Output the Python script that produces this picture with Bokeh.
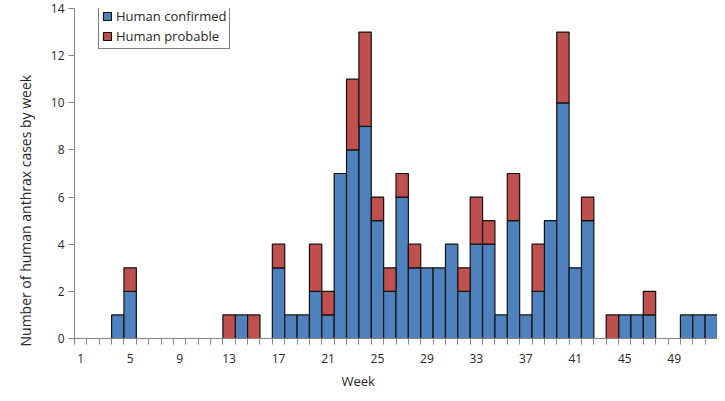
from bokeh.plotting import figure
from bokeh.models import (ColumnDataSource, CDSView, BooleanFilter, Range1d, FixedTicker,
                          Title, Legend, LegendItem)
from bokeh.embed import file_html
from bokeh.resources import INLINE

weeks = list(range(1, 53))
confirmed = [0, 0, 0, 1, 2, 0, 0, 0, 0, 0, 0, 0, 0, 1, 0, 0, 3, 1, 1, 2, 1,
             7, 8, 9, 5, 2, 6, 3, 3, 3, 4, 2, 4, 4, 1, 5, 1, 2, 5, 10, 3,
             5, 0, 0, 1, 1, 1, 0, 0, 1, 1, 1]
probable = [0, 0, 0, 0, 1, 0, 0, 0, 0, 0, 0, 0, 1, 0, 1, 0, 1, 0, 0, 2, 1,
            0, 3, 4, 1, 1, 1, 1, 0, 0, 0, 1, 2, 1, 0, 2, 0, 2, 0, 3, 0,
            1, 0, 1, 0, 0, 1, 0, 0, 0, 0, 0]
x_tick_weeks = list(range(1, 53, 4))
y_ticks = list(range(0, 15, 2))
series_names = ["Human confirmed", "Human probable"]

FONT = "Open Sans"
BLUE = "#4F81BD"
RED = "#C0504D"
AXIS_GREY = "#868686"
TEXT = "#262626"

totals = [c + q for c, q in zip(confirmed, probable)]
src = ColumnDataSource(dict(week=weeks, confirmed=confirmed, probable=probable, total=totals))

p = figure(width=717, height=393, output_backend="svg", toolbar_location=None,
           x_range=Range1d(0.5, len(weeks) + 0.5), y_range=Range1d(0, 14),
           min_border_left=74, min_border_right=0, min_border_top=8, min_border_bottom=52)
p.outline_line_color = None
p.xgrid.visible = False
p.ygrid.visible = False
p.background_fill_color = "white"

view_c = CDSView(filter=BooleanFilter([c > 0 for c in confirmed]))
view_p = CDSView(filter=BooleanFilter([q > 0 for q in probable]))

r_c = p.vbar(x="week", bottom=0, top="confirmed", width=1, source=src, view=view_c,
             fill_color=BLUE, line_color="#111111", line_width=1.2)
r_p = p.vbar(x="week", bottom="confirmed", top="total", width=1, source=src, view=view_p,
             fill_color=RED, line_color="#111111", line_width=1.2)

# x axis
xa = p.xaxis[0]
xa.ticker = FixedTicker(ticks=x_tick_weeks, minor_ticks=[w - 0.5 for w in weeks] + [weeks[-1] + 0.5])
xa.major_tick_out = 0
xa.major_tick_in = 0
xa.minor_tick_out = 6
xa.minor_tick_in = 0
xa.minor_tick_line_color = AXIS_GREY
xa.axis_line_color = AXIS_GREY
xa.major_label_standoff = 9
xa.major_label_text_font = FONT
xa.major_label_text_font_size = "12px"
xa.major_label_text_color = TEXT

# y axis
ya = p.yaxis[0]
ya.ticker = FixedTicker(ticks=y_ticks)
ya.major_tick_out = 6
ya.major_tick_in = 0
ya.minor_tick_out = 0
ya.minor_tick_in = 0
ya.major_tick_line_color = AXIS_GREY
ya.axis_line_color = AXIS_GREY
ya.major_label_standoff = 4
ya.major_label_text_font = FONT
ya.major_label_text_font_size = "12px"
ya.major_label_text_color = TEXT

p.add_layout(Title(text="Week", align="left", offset=267, standoff=8,
                   text_font=FONT, text_font_size="13px", text_font_style="normal",
                   text_color=TEXT), "below")
p.add_layout(Title(text="Number of human anthrax cases by week", align="left", offset=-8,
                   standoff=26, text_font=FONT, text_font_size="14px",
                   text_font_style="normal", text_color=TEXT), "left")

legend = Legend(items=[LegendItem(label=series_names[0], renderers=[r_c]),
                       LegendItem(label=series_names[1], renderers=[r_p])],
                location=(24, 289), orientation="vertical",
                border_line_color="black", border_line_width=1,
                background_fill_color="white", background_fill_alpha=1,
                glyph_width=10, glyph_height=10, label_height=17, spacing=2,
                padding=3, margin=0, label_standoff=4,
                label_text_font=FONT, label_text_font_size="13px", label_text_color=TEXT)
p.add_layout(legend)

open("out.html", "w").write(file_html(p, INLINE))
